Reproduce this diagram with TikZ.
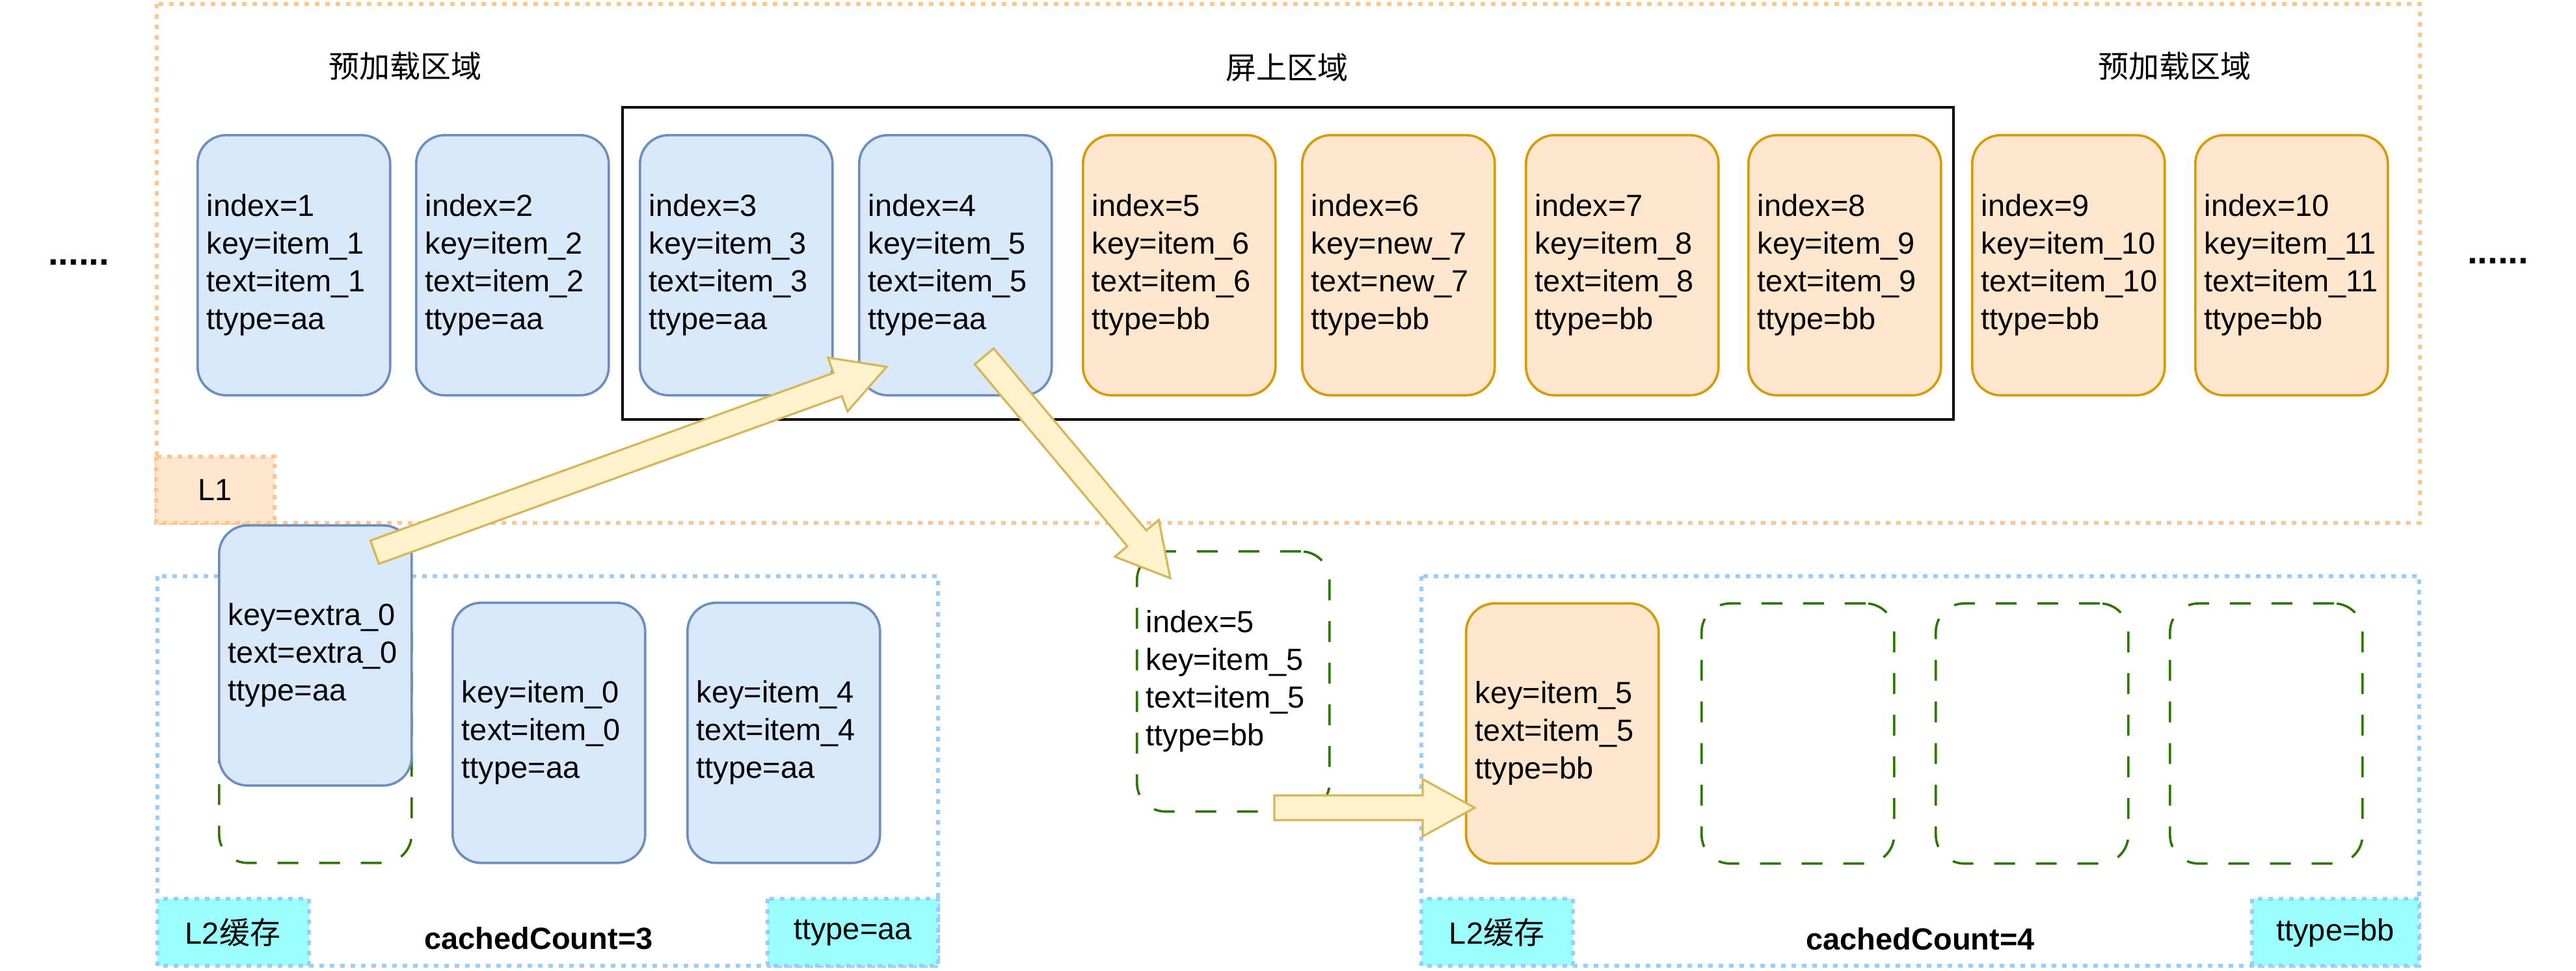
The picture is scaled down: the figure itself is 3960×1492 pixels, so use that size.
\documentclass[tikz,border=0pt]{standalone}
\usepackage{fontspec}
\setmainfont{Liberation Sans}
\newfontfamily\cjk{Noto Sans CJK SC}
\usetikzlibrary{calc}
\definecolor{bluefill}{HTML}{DAE8FC}
\definecolor{bluedraw}{HTML}{6C8EBF}
\definecolor{orfill}{HTML}{FFE6CC}
\definecolor{ordraw}{HTML}{D79B00}
\definecolor{arrfill}{HTML}{FFF2CC}
\definecolor{arrdraw}{HTML}{D6B656}
\definecolor{greendash}{HTML}{2D7600}
\definecolor{lonedot}{HTML}{FFC690}
\definecolor{ltwodot}{HTML}{99CCFF}
\definecolor{cyanfill}{HTML}{99FFFF}
\tikzset{
  cardbox/.style={rounded corners=11pt, line width=0.9pt, minimum width=74pt, minimum height=100pt, inner sep=0pt, anchor=north west},
  bluecard/.style={cardbox, fill=bluefill, draw=bluedraw},
  orcard/.style={cardbox, fill=orfill, draw=ordraw},
  slotbox/.style={cardbox, draw=greendash, dash pattern=on 8pt off 8pt},
  cardtext/.style={anchor=west, align=left, inner sep=0pt, font=\fontsize{11.75pt}{14.5pt}\selectfont},
  lonedotted/.style={draw=lonedot, line width=1.6pt, dash pattern=on 1.75pt off 2.25pt},
  ltwodotted/.style={draw=ltwodot, line width=1.6pt, dash pattern=on 1.75pt off 2.25pt},
  plaintext/.style={inner sep=0pt, font=\fontsize{11.75pt}{14pt}\selectfont},
  blockarrowstyle/.style={fill=arrfill, draw=arrdraw, line width=0.8pt, line join=miter},
}
\newcommand\card[5]{%
  \node[#2] (#1) at (#3,#4) {};
  \node[cardtext] (#1t) at ($(#1.west)+(15,0)$) {#5};}
\newcommand\blockarrow[3]{%
  \coordinate (#3c) at ($(#2)!20pt!(#1)$);
  \filldraw[blockarrowstyle]
    ($(#1)!4.75pt!90:(#2)$) -- ($(#3c)!4.75pt!90:(#2)$) -- ($(#3c)!11pt!90:(#2)$)
    -- (#2) -- ($(#3c)!11pt!-90:(#2)$) -- ($(#3c)!4.75pt!-90:(#2)$)
    -- ($(#1)!4.75pt!-90:(#2)$) -- cycle;}
\begin{document}
\begin{tikzpicture}[x=0.25pt,y=-0.25pt]
\useasboundingbox (0,0) rectangle (3960,1492);
\fill[white] (0,0) rectangle (3960,1492);

% L1 region
\draw[lonedotted] (241,6) rectangle (3720,804);
\draw[line width=1pt] (957,165) rectangle (3003,645);
\node[plaintext] (t1) at (623,102) {\cjk 预加载区域};
\node[plaintext] (t2) at (1978,104) {\cjk 屏上区域};
\node[plaintext] (t3) at (3343,102) {\cjk 预加载区域};
\node[plaintext, anchor=base, font=\bfseries\fontsize{14pt}{16pt}\selectfont] (d1) at (121,407) {......};
\node[plaintext, anchor=base, font=\bfseries\fontsize{14pt}{16pt}\selectfont] (d2) at (3840,405) {......};

\card{c1}{bluecard}{302}{206}{index=1\\key=item\_1\\text=item\_1\\ttype=aa}
\card{c2}{bluecard}{638}{206}{index=2\\key=item\_2\\text=item\_2\\ttype=aa}
\card{c3}{bluecard}{982}{206}{index=3\\key=item\_3\\text=item\_3\\ttype=aa}
\card{c4}{bluecard}{1319}{206}{index=4\\key=item\_5\\text=item\_5\\ttype=aa}
\card{c5}{orcard}{1663}{206}{index=5\\key=item\_6\\text=item\_6\\ttype=bb}
\card{c6}{orcard}{2000}{206}{index=6\\key=new\_7\\text=new\_7\\ttype=bb}
\card{c7}{orcard}{2344}{206}{index=7\\key=item\_8\\text=item\_8\\ttype=bb}
\card{c8}{orcard}{2686}{206}{index=8\\key=item\_9\\text=item\_9\\ttype=bb}
\card{c9}{orcard}{3030}{206}{index=9\\key=item\_10\\text=item\_10\\ttype=bb}
\card{c10}{orcard}{3373}{206}{index=10\\key=item\_11\\text=item\_11\\ttype=bb}

\draw[lonedotted, fill=orfill] (240,702) rectangle (422,804);
\node[plaintext] (lone) at (331,753) {L1};

% L2 left
\draw[ltwodotted] (242,886) rectangle (1442,1485);
\draw[ltwodotted, fill=cyanfill] (242,1382) rectangle (475,1485);
\node[plaintext] (ltwoa) at (358,1434) {L2{\cjk 缓存}};
\draw[ltwodotted, fill=cyanfill] (1180,1382) rectangle (1442,1485);
\node[plaintext] (tya) at (1311,1434) {ttype=aa};
\node[plaintext, font=\bfseries\fontsize{11.75pt}{14pt}\selectfont] (cc3) at (828,1443) {cachedCount=3};
\node[slotbox] (s0) at (335,925) {};
\card{e0}{bluecard}{335}{806}{key=extra\_0\\text=extra\_0\\ttype=aa}
\card{l0}{bluecard}{694}{925}{key=item\_0\\text=item\_0\\ttype=aa}
\card{l4}{bluecard}{1055}{925}{key=item\_4\\text=item\_4\\ttype=aa}

% moving item
\card{s5}{slotbox}{1746}{846}{index=5\\key=item\_5\\text=item\_5\\ttype=bb}

% L2 right
\draw[ltwodotted] (2185,886) rectangle (3719,1485);
\draw[ltwodotted, fill=cyanfill] (2185,1382) rectangle (2418,1485);
\node[plaintext] (ltwob) at (2301,1434) {L2{\cjk 缓存}};
\draw[ltwodotted, fill=cyanfill] (3462,1382) rectangle (3719,1485);
\node[plaintext] (tyb) at (3590,1434) {ttype=bb};
\node[plaintext, font=\bfseries\fontsize{11.75pt}{14pt}\selectfont] (cc4) at (2952,1444) {cachedCount=4};
\card{r5}{orcard}{2252}{926}{key=item\_5\\text=item\_5\\ttype=bb}
\node[slotbox] (sa) at (2614,926) {};
\node[slotbox] (sb) at (2974,926) {};
\node[slotbox] (sc) at (3334,926) {};

% block arrows
\coordinate (a1s) at ($(e0.north west)+(241,43)$);
\coordinate (a1e) at ($(c4.north west)+(44,358)$);
\coordinate (a2s) at ($(c4.north west)+(194,342)$);
\coordinate (a2e) at ($(s5.north west)+(53,43)$);
\coordinate (a3s) at ($(s5.north west)+(213,396)$);
\coordinate (a3e) at ($(r5.north west)+(15,316)$);
\blockarrow{a1s}{a1e}{aone}
\blockarrow{a2s}{a2e}{atwo}
\blockarrow{a3s}{a3e}{athree}
\end{tikzpicture}
\end{document}
